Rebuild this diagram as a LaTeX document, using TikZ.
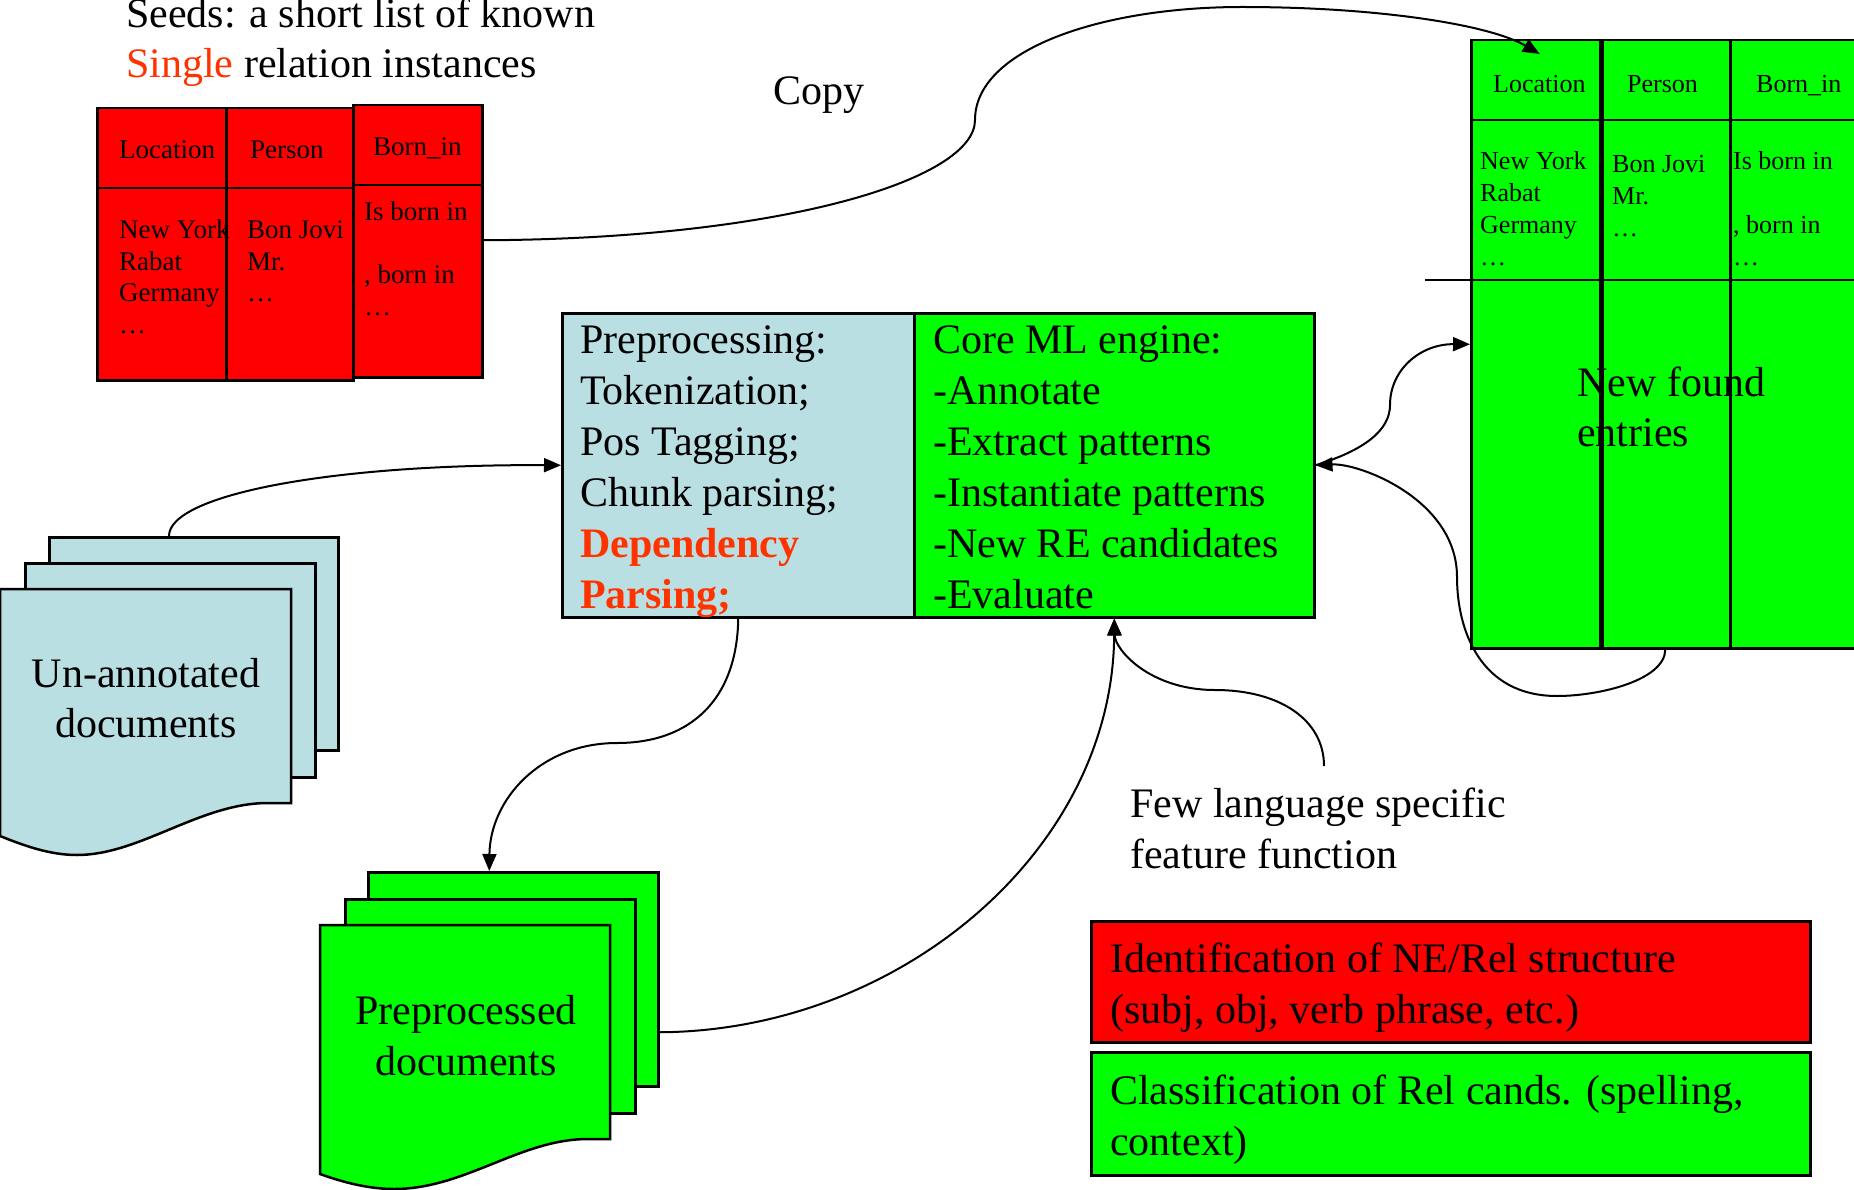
\documentclass[tikz,border=0pt]{standalone}
\usepackage{fontspec}
\setmainfont{Liberation Serif}
\usetikzlibrary{arrows.meta}
\definecolor{tblred}{RGB}{255,0,0}
\definecolor{tblgreen}{RGB}{0,255,0}
\definecolor{docblue}{RGB}{186,223,227}
\definecolor{orred}{RGB}{255,51,0}
\begin{document}
\begin{tikzpicture}[x=1pt,y=-1pt,
  cell/.style={draw=black, line width=2.5pt, inner sep=0pt, anchor=north west},
  redcell/.style={cell, fill=tblred},
  grncell/.style={cell, fill=tblgreen},
  bluecell/.style={cell, fill=docblue},
  sheet/.style={draw=black, line width=2.5pt},
  txt/.style={inner sep=0pt, anchor=base west},
  ctxt/.style={inner sep=0pt, anchor=base},
  big/.style={font=\fontsize{42}{51}\selectfont},
  bigb/.style={font=\fontsize{42}{50}\selectfont},
  small/.style={font=\fontsize{27}{31.5}\selectfont},
  gsmall/.style={font=\fontsize{26}{32}\selectfont},
  conn/.style={line width=2pt},
  arr/.style={conn, -{Triangle[length=17pt,width=14pt]}}]

\useasboundingbox (0,0) rectangle (1854,1190);
\fill[white] (0,0) rectangle (1854,1190);
\clip (0,0) rectangle (1854,1190);

% ---------- seeds title ----------
\node[txt,bigb] (seeds) at (126,28) {\begin{tabular}[t]{@{}l@{}}Seeds: a short list of known\\{\color{orred}Single} relation instances\end{tabular}};

% ---------- red seed table ----------
\node[redcell, minimum width=129, minimum height=80] (r1h) at (96,107) {};
\node[redcell, minimum width=129, minimum height=192] (r1b) at (96,187) {};
\node[redcell, minimum width=127, minimum height=80] (r2h) at (225,107) {};
\node[redcell, minimum width=127, minimum height=192] (r2b) at (225,187) {};
\node[redcell, minimum width=129, minimum height=80] (r3h) at (352,104) {};
\node[redcell, minimum width=129, minimum height=192] (r3b) at (352,184) {};

\node[txt,small] (rt1) at (119,159) {Location};
\node[txt,small] (rt2) at (250,159) {Person};
\node[txt,small] (rt3) at (373,156) {Born\_in};
\node[txt,small] (rv1) at (119,239) {\begin{tabular}[t]{@{}l@{}}New York\\Rabat\\Germany\\…\end{tabular}};
\node[txt,small] (rv2) at (247,239) {\begin{tabular}[t]{@{}l@{}}Bon Jovi\\Mr.\\…\end{tabular}};
\node[txt,small] (rv3) at (364,221) {\begin{tabular}[t]{@{}l@{}}Is born in\\ \\, born in\\…\end{tabular}};

% ---------- copy label ----------
\node[txt,big] (copy) at (773,105) {Copy};

% ---------- green result table ----------
\node[grncell, minimum width=129, minimum height=608] (g1) at (1470,39) {};
\node[grncell, minimum width=130, minimum height=608] (g2) at (1599,39) {};
\node[grncell, minimum width=150, minimum height=608] (g3) at (1729,39) {};
\draw[line width=2.5pt] (g1.north west |- 0,120) -- (1880,120);
\draw[line width=2.5pt] (1425,280) -- (1880,280);
\draw[line width=5pt] (g1.north east) -- (g1.south east);

\node[txt,gsmall] (gt1) at (1493,93) {Location};
\node[txt,gsmall] (gt2) at (1627,93) {Person};
\node[txt,gsmall] (gt3) at (1756,93) {Born\_in};
\node[txt,gsmall] (gv1) at (1480,170) {\begin{tabular}[t]{@{}l@{}}New York\\Rabat\\Germany\\…\end{tabular}};
\node[txt,gsmall] (gv2) at (1612,173) {\begin{tabular}[t]{@{}l@{}}Bon Jovi\\Mr.\\…\end{tabular}};
\node[txt,gsmall] (gv3) at (1733,170) {\begin{tabular}[t]{@{}l@{}}Is born in\\ \\, born in\\…\end{tabular}};
\node[txt,bigb] (nf) at (1577,396) {\begin{tabular}[t]{@{}l@{}}New found\\entries\end{tabular}};

% ---------- central engine box ----------
\node[bluecell, minimum width=352, minimum height=304] (pre) at (561,312) {};
\node[grncell, minimum width=400, minimum height=304] (core) at (913,312) {};
\node[txt,big] (pretxt) at (580,353) {\begin{tabular}[t]{@{}l@{}}Preprocessing:\\Tokenization;\\Pos Tagging;\\Chunk parsing;\\\textbf{\color{orred}Dependency}\\\textbf{\color{orred}Parsing;}\end{tabular}};
\node[txt,big] (coretxt) at (933,353) {\begin{tabular}[t]{@{}l@{}}Core ML engine:\\-Annotate\\-Extract patterns\\-Instantiate patterns\\-New RE candidates\\-Evaluate\end{tabular}};

% ---------- un-annotated documents ----------
\node[bluecell, minimum width=289, minimum height=213] (ud3) at (48,536) {};
\node[bluecell, minimum width=290, minimum height=214] (ud2) at (24,562) {};
\draw[sheet, fill=docblue] (0,589) -- (291,589) -- (291,803) -- (268,803)
  .. controls (200,803) and (140,855) .. (77,855)
  .. controls (50,855) and (25,846) .. (0,836) -- cycle;
\node[ctxt,bigb] (udtxt) at (146,687) {\begin{tabular}[t]{@{}c@{}}Un-annotated\\documents\end{tabular}};

% ---------- preprocessed documents ----------
\node[grncell, minimum width=290, minimum height=214] (pp3) at (367,871) {};
\node[grncell, minimum width=290, minimum height=214] (pp2) at (344,898) {};
\draw[sheet, fill=tblgreen] (320,925) -- (610,925) -- (610,1139) -- (588,1139)
  .. controls (520,1139) and (465,1189) .. (394,1189)
  .. controls (370,1189) and (345,1183) .. (320,1174) -- cycle;
\node[ctxt,big] (pptxt) at (466,1024) {\begin{tabular}[t]{@{}c@{}}Preprocessed\\documents\end{tabular}};

% ---------- feature function label ----------
\node[txt,big] (few) at (1130,817) {\begin{tabular}[t]{@{}l@{}}Few language specific\\feature function\end{tabular}};
\coordinate (fewtop) at (1324,766);

% ---------- legend boxes ----------
\node[redcell, minimum width=719, minimum height=121] (idbox) at (1090,920) {};
\node[grncell, minimum width=719, minimum height=123] (clbox) at (1090,1051) {};
\node[txt,big] (idtxt) at (1110,972) {\begin{tabular}[t]{@{}l@{}}Identification of NE/Rel structure\\(subj, obj, verb phrase, etc.)\end{tabular}};
\node[txt,big] (cltxt) at (1110,1104) {\begin{tabular}[t]{@{}l@{}}Classification of Rel cands. (spelling,\\context)\end{tabular}};

% ---------- connectors ----------
% copy
\draw[arr] ([yshift=41pt]r3b.east)
  .. controls (780,239) and (975,180) .. (975,120)
  .. controls (975,50) and (1100,7) .. (1242,7)
  .. controls (1380,7) and (1490,25) .. ([xshift=4pt,yshift=-15pt]g1.north);
% un-annotated -> preprocessing
\draw[arr] ([xshift=121pt]ud3.north west)
  .. controls (169,495) and (330,464) .. (pre.west);
% preprocessing -> preprocessed docs
\draw[arr] (pre.south)
  .. controls (737,700) and (690,743) .. (617,743)
  .. controls (540,743) and (490,800) .. ([xshift=-24pt]pp3.north);
% preprocessed docs -> core
\draw[arr] ([yshift=-53pt]pp3.east)
  .. controls (900,1031) and (1113,850) .. (core.south);
% feature function -> core
\draw[arr] (fewtop)
  .. controls (1324,720) and (1280,690) .. (1215,690)
  .. controls (1150,690) and (1115,650) .. (core.south);
% core -> new entries
\draw[arr] (core.east)
  .. controls (1365,450) and (1390,430) .. (1390,405)
  .. controls (1390,370) and (1420,344) .. (g1.west);
% new entries -> core
\draw[arr] (g2.south)
  .. controls (1665,680) and (1600,696) .. (1557,696)
  .. controls (1480,696) and (1457,630) .. (1457,577)
  .. controls (1457,500) and (1360,463) .. (core.east);
\end{tikzpicture}
\end{document}
